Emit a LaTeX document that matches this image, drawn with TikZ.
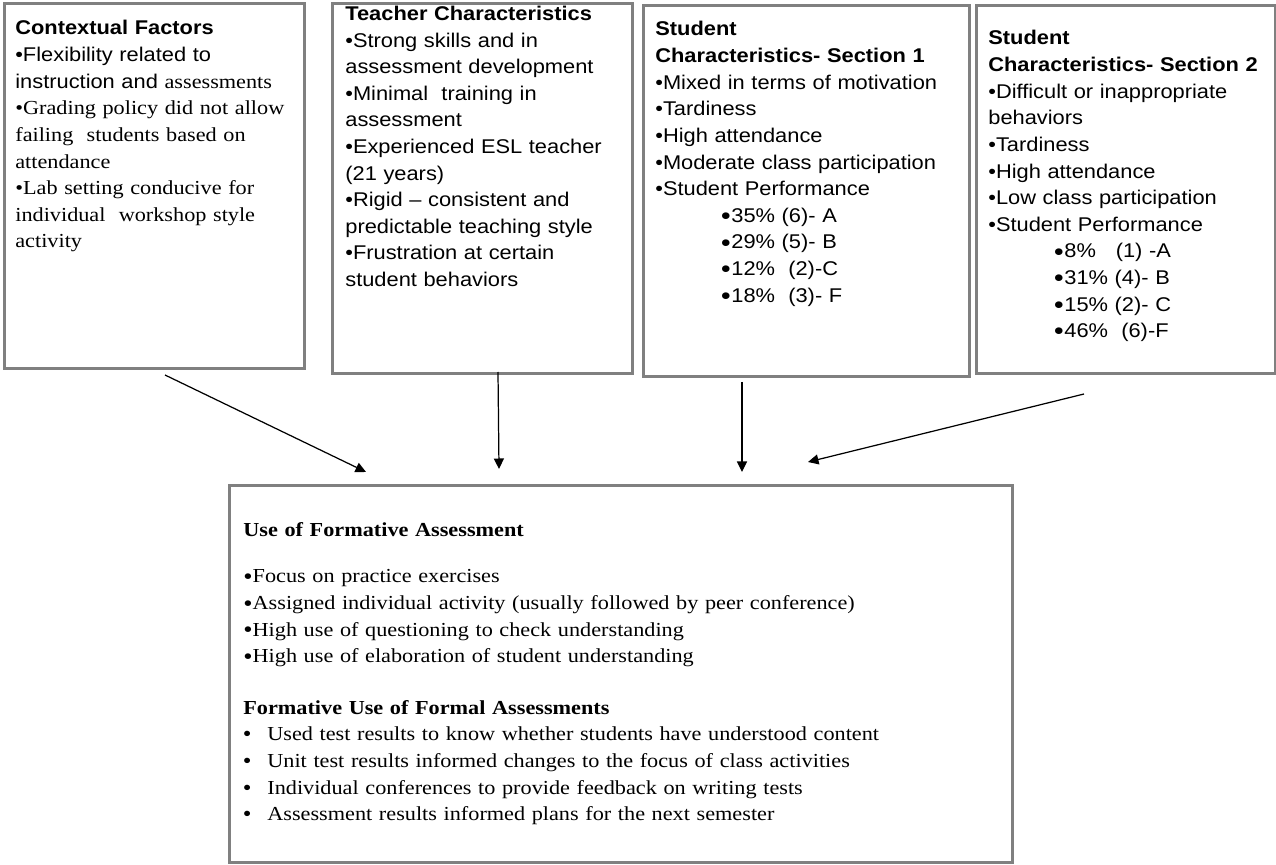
\documentclass[tikz,border=0pt]{standalone}
\usepackage{fontspec}
\setmainfont{Liberation Serif}[FakeStretch=1.12]
\setsansfont{Liberation Sans}[FakeStretch=1.10]
\usetikzlibrary{arrows.meta,calc}
\definecolor{framec}{RGB}{128,128,128}
\newcommand{\sftxt}{\fontsize{11.3pt}{15.14pt}\selectfont\sffamily}
\newcommand{\rmtxt}{\fontsize{11.3pt}{15.14pt}\selectfont\rmfamily}
\newcommand{\bigdot}{\raisebox{-1.9pt}{\fontsize{16pt}{15.14pt}\selectfont\rmfamily\textbullet}}
\newcommand{\middot}{\raisebox{-1.0pt}{\fontsize{13.5pt}{15.14pt}\selectfont\rmfamily\textbullet}}
\newcommand{\perfitem}[1]{\hspace*{1.3cm}\bigdot#1}
\newcommand{\listdot}{\makebox[0.48cm][l]{\sffamily\textbullet}}

\begin{document}
\begin{tikzpicture}[>={Triangle[length=0.21cm,width=0.2cm]},
  box/.style={draw=framec,line width=1.6pt,anchor=north west,inner sep=0pt},
  txt/.style={anchor=base west,inner sep=0pt,align=left},
  arr/.style={->,line width=0.7pt}]
\useasboundingbox (0,0) rectangle (25.52,-17.30);

%================= the four boxes on top =================
\node[box,minimum width=6.00cm,minimum height=7.30cm] (ctx) at (0.06,-0.04) {};
\node[box,minimum width=6.00cm,minimum height=7.40cm] (tch) at (6.62,-0.04) {};
\node[box,minimum width=6.52cm,minimum height=7.42cm] (sec1) at (12.84,-0.08) {};
\node[box,minimum width=5.98cm,minimum height=7.36cm] (sec2) at (19.50,-0.08) {};

\node[txt,text width=5.8cm,font=\sftxt] (ctx-t) at ($(ctx.north west)+(0.24,-0.66)$)
  {\textbf{Contextual Factors}\\
   \textbullet Flexibility related to\\
   instruction and \rmtxt assessments\\
   \textbullet Grading policy did not allow\\
   failing\ \ students based on\\
   attendance\\
   \textbullet Lab setting conducive for\\
   individual\ \ workshop style\\
   activity};

\node[txt,text width=5.8cm,font=\sftxt] (tch-t) at ($(tch.north west)+(0.28,-0.37)$)
  {\textbf{Teacher Characteristics}\\
   \textbullet Strong skills and in\\
   assessment development\\
   \textbullet Minimal\ \ training in\\
   assessment\\
   \textbullet Experienced ESL teacher\\
   (21 years)\\
   \textbullet Rigid -- consistent and\\
   predictable teaching style\\
   \textbullet Frustration at certain\\
   student behaviors};

\node[txt,text width=6.2cm,font=\sftxt] (sec1-t) at ($(sec1.north west)+(0.26,-0.64)$)
  {\textbf{Student}\\
   \textbf{Characteristics- Section 1}\\
   \textbullet Mixed in terms of motivation\\
   \textbullet Tardiness\\
   \textbullet High attendance\\
   \textbullet Moderate class participation\\
   \textbullet Student Performance\\
   \perfitem{35\% (6)- A}\\
   \perfitem{29\% (5)- B}\\
   \perfitem{12\%\ \ (2)-C}\\
   \perfitem{18\%\ \ (3)- F}};

\node[txt,text width=5.8cm,font=\sftxt] (sec2-t) at ($(sec2.north west)+(0.26,-0.82)$)
  {\textbf{Student}\\
   \textbf{Characteristics- Section 2}\\
   \textbullet Difficult or inappropriate\\
   behaviors\\
   \textbullet Tardiness\\
   \textbullet High attendance\\
   \textbullet Low class participation\\
   \textbullet Student Performance\\
   \perfitem{8\%\ \ \ (1) -A}\\
   \perfitem{31\% (4)- B}\\
   \perfitem{15\% (2)- C}\\
   \perfitem{46\%\ \ (6)-F}};

%================= the box below =================
\node[box,minimum width=15.66cm,minimum height=7.54cm] (fa) at (4.56,-9.68) {};
\node[txt,text width=15cm,font=\rmtxt] (fa-t) at ($(fa.north west)+(0.30,-1.06)$)
  {\textbf{Use of Formative Assessment}\\[0.386cm]
   \middot Focus on practice exercises\\
   \middot Assigned individual activity (usually followed by peer conference)\\
   \middot High use of questioning to check understanding\\
   \middot High use of elaboration of student understanding\\[0.5cm]
   \textbf{Formative Use of Formal Assessments}\\
   \listdot Used test results to know whether students have understood content\\
   \listdot Unit test results informed changes to the focus of class activities\\
   \listdot Individual conferences to provide feedback on writing tests\\
   \listdot Assessment results informed plans for the next semester};

% --- arrows
\coordinate (ctx-out) at (3.30,-7.50);
\coordinate (tch-out) at (9.96,-7.44);
\coordinate (sec1-out) at (14.84,-7.64);
\coordinate (sec2-out) at (21.68,-7.88);
\coordinate (fa-in1) at (7.32,-9.44);
\coordinate (fa-in2) at (9.98,-9.38);
\coordinate (fa-in3) at (14.84,-9.44);
\coordinate (fa-in4) at (16.16,-9.24);
\draw[arr] (ctx-out) -- (fa-in1);
\draw[arr] (tch-out) -- (fa-in2);
\draw[arr] (sec1-out) -- (fa-in3);
\draw[arr] (sec2-out) -- (fa-in4);
\end{tikzpicture}
\end{document}
